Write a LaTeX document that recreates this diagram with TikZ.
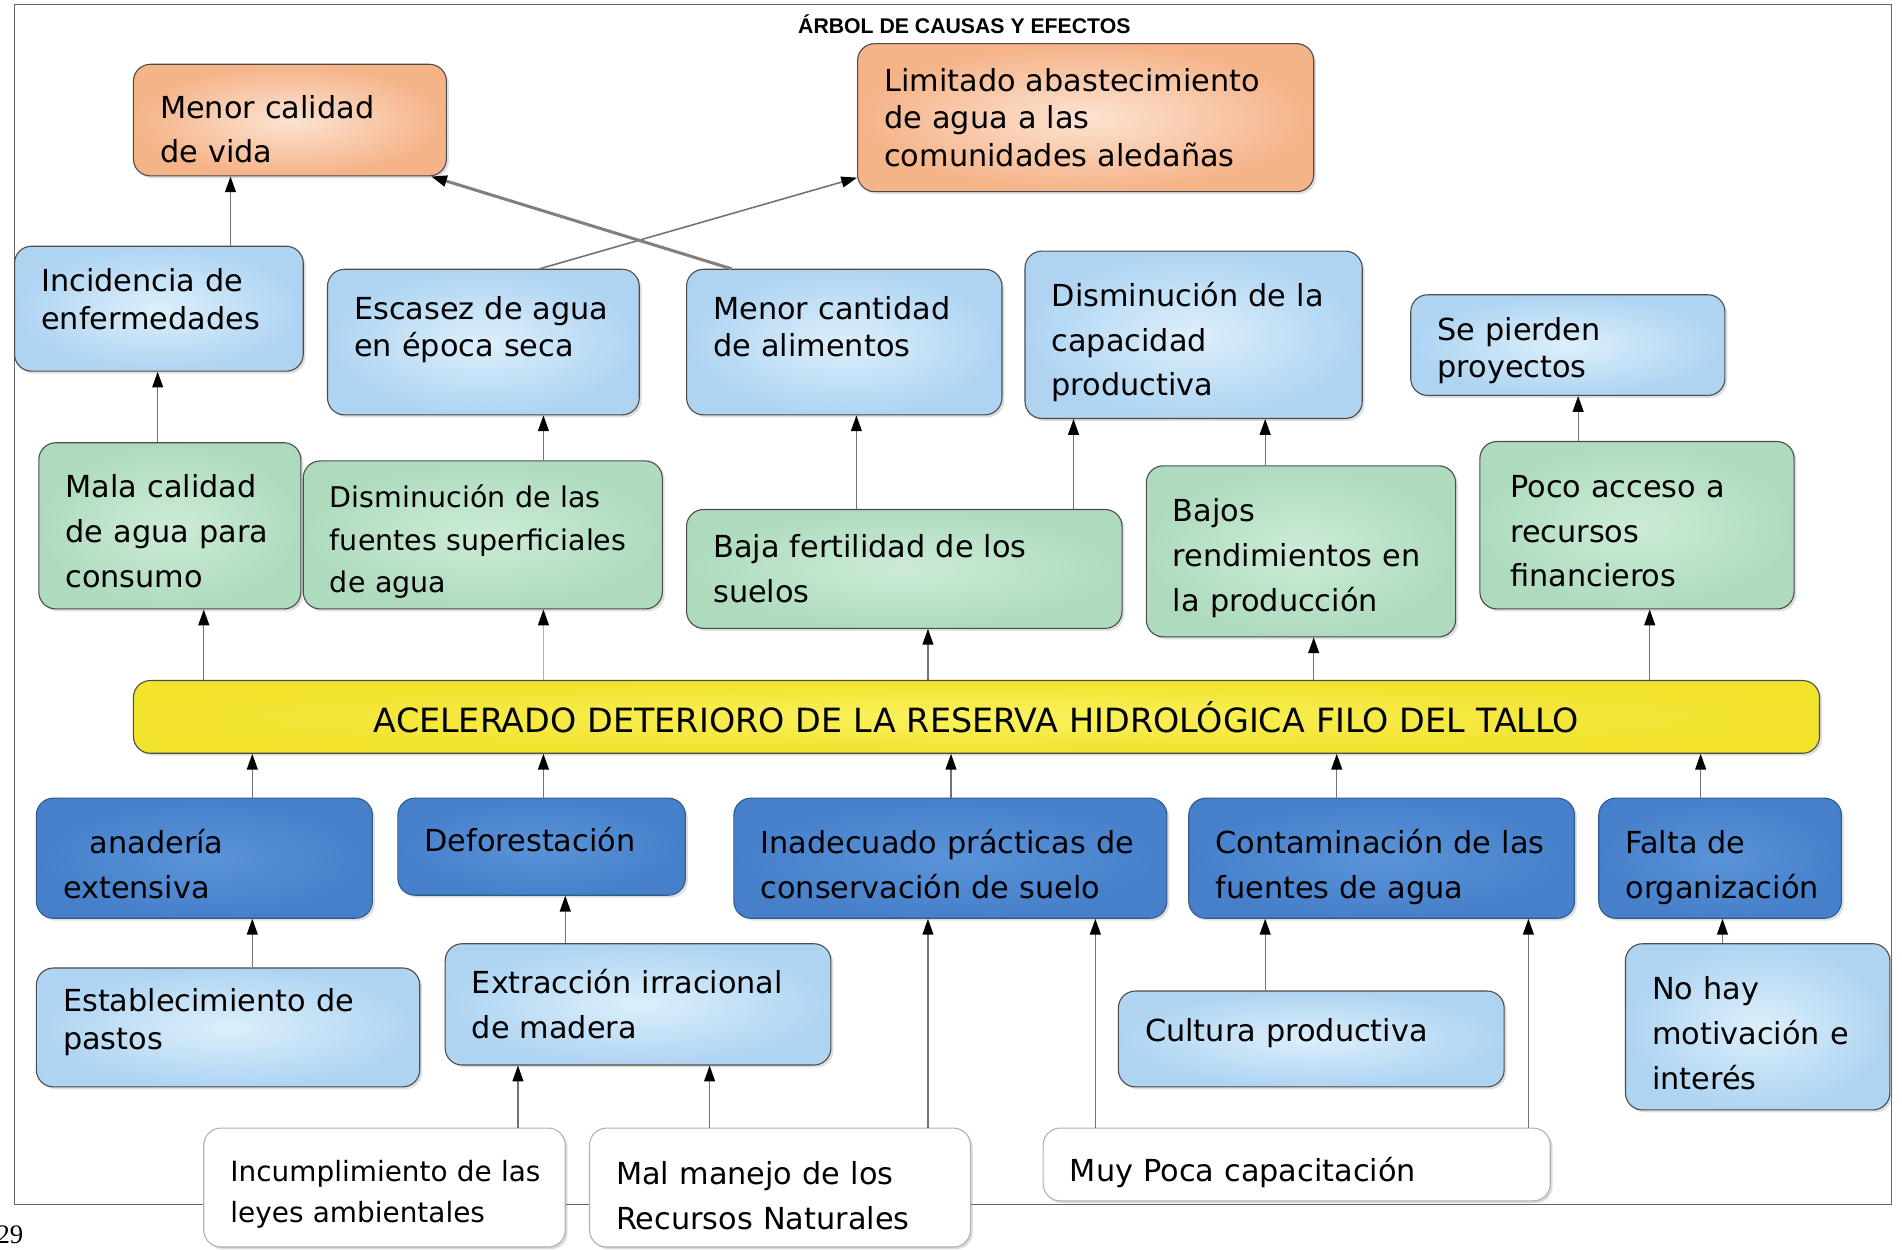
\documentclass[tikz,border=0pt]{standalone}
\usepackage{fontspec}
\setmainfont{DejaVu Sans}
\newfontfamily\titlefont{Liberation Sans}
\newfontfamily\pgnfont{Liberation Serif}
\usetikzlibrary{arrows.meta,shadows}
\definecolor{orng}{HTML}{F5B388}
\definecolor{orngl}{HTML}{FCE3D2}
\definecolor{lblue}{HTML}{AED4F2}
\definecolor{lbluel}{HTML}{DDEFFB}
\definecolor{grn}{HTML}{AEDBBE}
\definecolor{grnl}{HTML}{CDEBD7}
\definecolor{dblue}{HTML}{4680CB}
\definecolor{dbluel}{HTML}{5A93D8}
\definecolor{yel}{HTML}{F1E22C}
\definecolor{yell}{HTML}{FAF25E}
\newcommand\setfs[2]{\fontsize{#1}{#2}\selectfont}
\newcommand\up[1]{\rule[-#1pt]{0pt}{0pt}}
\newcommand\dn[1]{\rule{0pt}{#1pt}}
\newcommand\bx[7]{%
  \pgfmathsetmacro\bxw{#5-#3}%
  \pgfmathsetmacro\bxh{#6-#4}%
  \pgfmathsetmacro\bxt{#5-#3-44}%
  \node[#1, minimum width=\bxw pt, minimum height=\bxh pt, text width=\bxt pt] (#2) at ({(#3+#5)/2},{(#4+#6)/2}) {#7};}
\tikzset{
  base/.style={rounded corners=14pt, draw=black!70, line width=0.9pt, inner xsep=0pt, inner ysep=0pt,
    align=left, font=\setfs{25}{37},
    drop shadow={opacity=0.25, shadow xshift=2pt, shadow yshift=-2pt}},
  orangebox/.style={base, inner color=orngl, outer color=orng},
  lbluebox/.style={base, inner color=lbluel, outer color=lblue},
  greenbox/.style={base, inner color=grnl, outer color=grn},
  dbluebox/.style={base, inner color=dbluel, outer color=dblue, draw=dblue!70!black},
  yellowbox/.style={base, inner color=yell, outer color=yel, align=center, font=\setfs{27.5}{32}},
  whitebox/.style={base, fill=white, draw=black!30, drop shadow={opacity=0.1, shadow xshift=1pt, shadow yshift=-1pt}},
  arr/.style={draw=black!55, line width=1pt, -{Triangle[length=13pt,width=9pt,color=black]}},
}
\begin{document}
\begin{tikzpicture}[x=1pt,y=-1pt]
\useasboundingbox (0,0) rectangle (1568,1030);
\fill[white] (0,0) rectangle (1568,1030);
\draw[black!60, line width=1pt] (12,4) rectangle (1559,993);
\node[font=\titlefont\bfseries\setfs{17.5}{19}] (title) at (795,20) {ÁRBOL DE CAUSAS Y EFECTOS};
\node[font=\pgnfont\setfs{22}{24}, anchor=west, inner sep=0pt] (pg) at (-3,1018) {29};

% effects
\bx{orangebox, font=\setfs{25}{37}}{calidad}{110}{53}{368}{145}{\dn{34}Menor~calidad\\de~vida}
\bx{orangebox, font=\setfs{25}{31}}{limit}{707}{36}{1083}{158}{Limitado~abastecimiento\\de~agua~a~las\\comunidades~aledañas}

\bx{lbluebox, font=\setfs{25}{31}}{incid}{12}{203}{250}{306}{Incidencia~de\\enfermedades\up{16}}
\bx{lbluebox, font=\setfs{25}{31}}{escasez}{270}{222}{527}{342}{Escasez~de~agua\\en~época~seca\up{26}}
\bx{lbluebox, font=\setfs{25}{31}}{cant}{566}{222}{826}{342}{Menor~cantidad\\de~alimentos\up{26}}
\bx{lbluebox}{capac}{845}{207}{1123}{345}{\dn{32}Disminución~de~la\\capacidad\\productiva}
\bx{lbluebox, font=\setfs{25}{31}}{pierden}{1163}{243}{1422}{326}{\dn{28}Se~pierden\\proyectos}

\bx{greenbox}{mala}{32}{365}{248}{502}{\dn{28}Mala~calidad\\de~agua~para\\consumo}
\bx{greenbox, font=\setfs{23.5}{35}}{fuentes}{250}{380}{546}{502}{\dn{30}Disminución~de~las\\fuentes~superficiales\\de~agua}
\bx{greenbox}{baja}{566}{420}{925}{518}{Baja~fertilidad~de~los\\suelos}
\bx{greenbox}{bajos}{945}{384}{1200}{525}{\dn{30}Bajos\\rendimientos~en\\la~producción}
\bx{greenbox}{poco}{1220}{364}{1479}{502}{\dn{28}\hspace*{3pt}Poco~acceso~a\\\hspace*{3pt}recursos\\\hspace*{3pt}financieros}

% central problem
\bx{yellowbox}{problem}{110}{561}{1500}{621}{ACELERADO DETERIORO DE LA RESERVA HIDROLÓGICA FILO DEL TALLO}

% causes
\bx{dbluebox}{gan}{30}{658}{307}{757}{\dn{30}\hspace*{22pt}anadería\\extensiva}
\bx{dbluebox}{defo}{328}{658}{565}{738}{Deforestación\up{12}}
\bx{dbluebox}{inad}{605}{658}{962}{757}{\dn{30}Inadecuado~prácticas~de\\conservación~de~suelo}
\bx{dbluebox}{conta}{980}{658}{1298}{757}{\dn{34}Contaminación~de~las\\fuentes~de~agua}
\bx{dbluebox}{falta}{1318}{658}{1518}{757}{\dn{34}Falta~de\\organización}

\bx{lbluebox, font=\setfs{25}{31}}{estab}{30}{798}{346}{896}{Establecimiento~de\\pastos\up{14}}
\bx{lbluebox}{extr}{367}{778}{685}{878}{Extracción~irracional\\de~madera}
\bx{lbluebox}{cult}{922}{817}{1240}{896}{Cultura~productiva\up{14}}
\bx{lbluebox}{nohay}{1340}{778}{1558}{915}{\dn{30}No~hay\\motivación~e\\interés}

\bx{whitebox, font=\setfs{23}{34}}{incum}{168}{930}{466}{1028}{\dn{28}Incumplimiento~de~las\\leyes~ambientales}
\bx{whitebox}{malm}{486}{930}{800}{1028}{\dn{32}Mal~manejo~de~los\\Recursos~Naturales}
\bx{whitebox}{muy}{860}{930}{1278}{990}{\dn{34}Muy~Poca~capacitación}

% connectors
\draw[arr] (190,0 |- incid.north) -- (190,0 |- calidad.south);
\draw[arr, line width=1.3pt] (445,0 |- escasez.north) -- ([yshift=12pt]limit.south west);
\draw[arr, line width=2.5pt, draw=black!50] (603,0 |- cant.north) -- ([xshift=-13pt]calidad.south east);
\draw[arr] (130,0 |- mala.north) -- (130,0 |- incid.south);
\draw[arr] (448,0 |- fuentes.north) -- (448,0 |- escasez.south);
\draw[arr] (706,0 |- baja.north) -- (706,0 |- cant.south);
\draw[arr] (885,0 |- baja.north) -- (885,0 |- capac.south);
\draw[arr] (1043,0 |- bajos.north) -- (1043,0 |- capac.south);
\draw[arr] (1301,0 |- poco.north) -- (1301,0 |- pierden.south);
\draw[arr] (168,0 |- problem.north) -- (168,0 |- mala.south);
\draw[arr, draw=black!30] (448,0 |- problem.north) -- (448,0 |- fuentes.south);
\draw[arr] (765,0 |- problem.north) -- (765,0 |- baja.south);
\draw[arr] (1083,0 |- problem.north) -- (1083,0 |- bajos.south);
\draw[arr] (1360,0 |- problem.north) -- (1360,0 |- poco.south);
\draw[arr] (208,0 |- gan.north) -- (208,0 |- problem.south);
\draw[arr] (448,0 |- defo.north) -- (448,0 |- problem.south);
\draw[arr] (784,0 |- inad.north) -- (784,0 |- problem.south);
\draw[arr] (1102,0 |- conta.north) -- (1102,0 |- problem.south);
\draw[arr] (1402,0 |- falta.north) -- (1402,0 |- problem.south);
\draw[arr] (208,0 |- estab.north) -- (208,0 |- gan.south);
\draw[arr] (466,0 |- extr.north) -- (466,0 |- defo.south);
\draw[arr] (427,0 |- incum.north) -- (427,0 |- extr.south);
\draw[arr] (585,0 |- malm.north) -- (585,0 |- extr.south);
\draw[arr] (765,0 |- malm.north) -- (765,0 |- inad.south);
\draw[arr] (903,0 |- muy.north) -- (903,0 |- inad.south);
\draw[arr] (1260,0 |- muy.north) -- (1260,0 |- conta.south);
\draw[arr] (1043,0 |- cult.north) -- (1043,0 |- conta.south);
\draw[arr] (1420,0 |- nohay.north) -- (1420,0 |- falta.south);
\end{tikzpicture}
\end{document}
